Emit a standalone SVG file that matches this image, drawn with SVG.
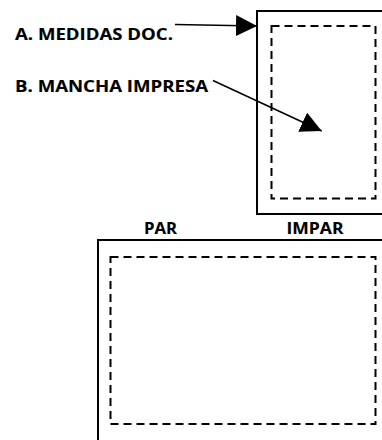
<svg xmlns="http://www.w3.org/2000/svg" width="382" height="440" viewBox="0 0 382 440">
<style>
.t{font-family:"Open Sans","Liberation Sans",Arial,sans-serif;font-weight:bold;font-size:16.5px;fill:#000;stroke:#000;stroke-width:0.12}
.page{fill:none;stroke:#000;stroke-width:2}
.mancha{fill:none;stroke:#000;stroke-width:2;stroke-dasharray:8 5}
.conn{stroke:#000;stroke-width:1.5;fill:none}
</style>
<defs>
<marker id="ah" markerUnits="userSpaceOnUse" markerWidth="22" markerHeight="22" refX="21" refY="10.5" orient="auto">
<path d="M0,0 L21,10.5 L0,21 Z" fill="#000"/>
</marker>
</defs>
<rect width="382" height="440" fill="#fff"/>
<g id="label-a"><text class="t" x="15" y="40" textLength="158" lengthAdjust="spacingAndGlyphs">A. MEDIDAS DOC.</text></g>
<g id="label-b"><text class="t" x="15" y="92" textLength="193" lengthAdjust="spacingAndGlyphs">B. MANCHA IMPRESA</text></g>
<g id="page-single">
<rect class="page" x="257" y="11" width="130" height="203"/>
<rect class="mancha" x="271.5" y="26" width="104" height="172.5"/>
</g>
<g id="label-par"><text class="t" x="144" y="234" textLength="33" lengthAdjust="spacingAndGlyphs">PAR</text></g>
<g id="label-impar"><text class="t" x="286.5" y="234" textLength="57" lengthAdjust="spacingAndGlyphs">IMPAR</text></g>
<g id="page-spread">
<rect class="page" x="98" y="240" width="300" height="220"/>
<rect class="mancha" x="110.5" y="257" width="265" height="167"/>
</g>
<g id="connectors">
<line class="conn" x1="175" y1="24.5" x2="257" y2="26" marker-end="url(#ah)"/>
<line class="conn" x1="213" y1="80.5" x2="321.7" y2="131" marker-end="url(#ah)"/>
</g>
</svg>
